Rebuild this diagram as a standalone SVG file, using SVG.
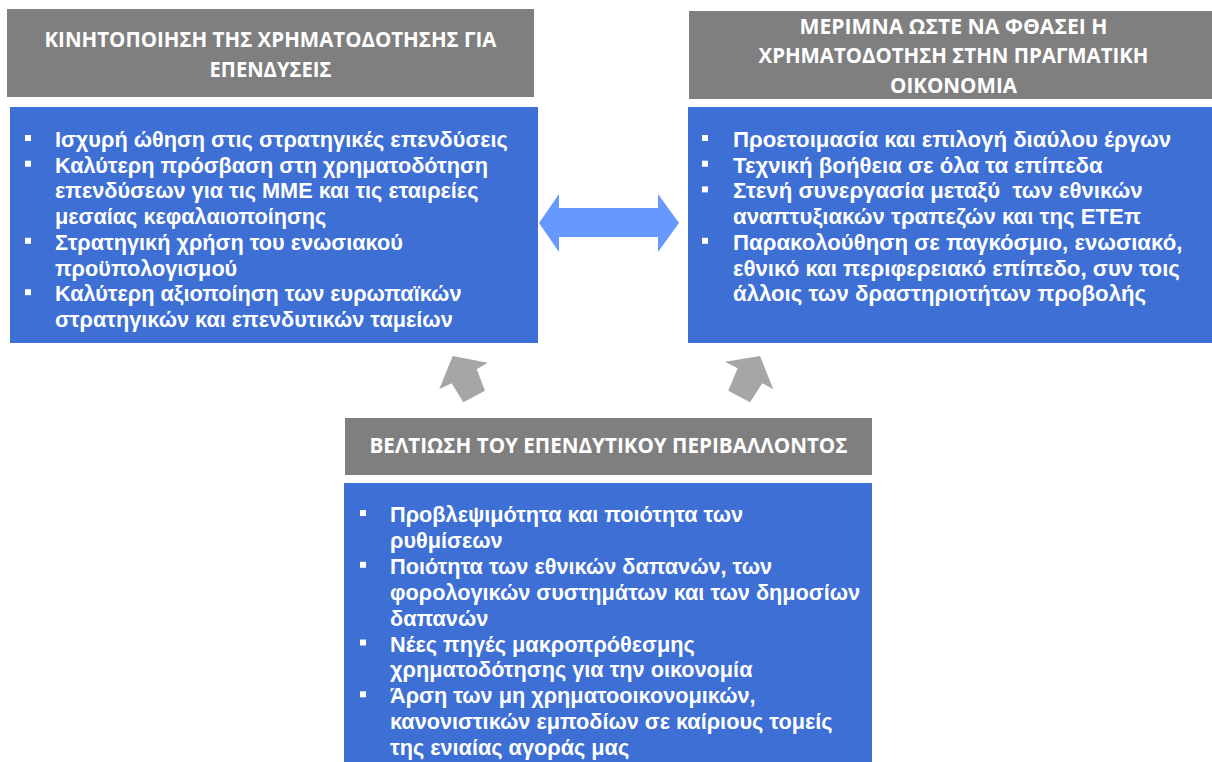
<svg xmlns="http://www.w3.org/2000/svg" width="1212" height="762" viewBox="0 0 1212 762">
<style>
.hdr{fill:#7F7F7F}
.box{fill:#3D6FD4}
.ht{font-family:"Open Sans","Noto Sans","DejaVu Sans",sans-serif;font-weight:bold;font-size:21px;fill:#FFFFFF;text-anchor:middle}
.bt{font-family:"Liberation Sans",Arial,sans-serif;font-weight:bold;font-size:21.7px;fill:#FFFFFF;white-space:pre}
.btr{font-size:22.2px}
.bul{fill:#FFFFFF}
.dbl{fill:#6699FF}
.up{fill:#A6A6A6}
</style>
<rect width="1212" height="762" fill="#FFFFFF"/>
<g id="connectors">
<polygon class="dbl" points="539,223 559,194 559,208 658,208 658,194 679,223 658,252 658,237 559,237 559,252"/>
<polygon class="up" points="452.7,356 487.7,362.7 476.7,369.3 485,390.7 463.3,402.3 451.7,383.3 439.3,389"/>
<polygon class="up" points="760,356 773.3,389.3 762.3,383.3 750,402.3 728.3,390.7 737.7,368.3 725,361.7"/>
</g>
<g id="node-mobilise">
<rect class="hdr" x="7" y="9" width="527" height="88"/>
<text class="ht" x="270.5" y="47" textLength="452" lengthAdjust="spacingAndGlyphs">ΚΙΝΗΤΟΠΟΙΗΣΗ ΤΗΣ ΧΡΗΜΑΤΟΔΟΤΗΣΗΣ ΓΙΑ</text>
<text class="ht" x="270.5" y="77" textLength="122" lengthAdjust="spacingAndGlyphs">ΕΠΕΝΔΥΣΕΙΣ</text>
<rect class="box" x="10" y="107" width="528" height="236"/>
<rect class="bul" x="25" y="135" width="6" height="6"/>
<rect class="bul" x="25" y="160.7" width="6" height="6"/>
<rect class="bul" x="25" y="237.8" width="6" height="6"/>
<rect class="bul" x="25" y="289.2" width="6" height="6"/>
<text class="bt" x="55" y="147">Ισχυρή ώθηση στις στρατηγικές επενδύσεις</text>
<text class="bt" x="55" y="172.7">Καλύτερη πρόσβαση στη χρηματοδότηση</text>
<text class="bt" x="55" y="198.4">επενδύσεων για τις ΜΜΕ και τις εταιρείες</text>
<text class="bt" x="55" y="224.1">μεσαίας κεφαλαιοποίησης</text>
<text class="bt" x="55" y="249.8">Στρατηγική χρήση του ενωσιακού</text>
<text class="bt" x="55" y="275.5">προϋπολογισμού</text>
<text class="bt" x="55" y="301.2">Καλύτερη αξιοποίηση των ευρωπαϊκών</text>
<text class="bt" x="55" y="326.9">στρατηγικών και επενδυτικών ταμείων</text>
</g>
<g id="node-realeconomy">
<rect class="hdr" x="689" y="11" width="530" height="88"/>
<text class="ht" x="953.5" y="34" textLength="308" lengthAdjust="spacingAndGlyphs">ΜΕΡΙΜΝΑ ΩΣΤΕ ΝΑ ΦΘΑΣΕΙ Η</text>
<text class="ht" x="953.5" y="63" textLength="390" lengthAdjust="spacingAndGlyphs">ΧΡΗΜΑΤΟΔΟΤΗΣΗ ΣΤΗΝ ΠΡΑΓΜΑΤΙΚΗ</text>
<text class="ht" x="953.5" y="92.5" textLength="127" lengthAdjust="spacingAndGlyphs">ΟΙΚΟΝΟΜΙΑ</text>
<rect class="box" x="688" y="107" width="531" height="236"/>
<rect class="bul" x="702" y="135" width="6" height="6"/>
<rect class="bul" x="702" y="160.7" width="6" height="6"/>
<rect class="bul" x="702" y="186.4" width="6" height="6"/>
<rect class="bul" x="702" y="237.8" width="6" height="6"/>
<text class="bt btr" x="733" y="147">Προετοιμασία και επιλογή διαύλου έργων</text>
<text class="bt btr" x="733" y="172.7">Τεχνική βοήθεια σε όλα τα επίπεδα</text>
<text class="bt btr" x="733" y="198.4">Στενή συνεργασία μεταξύ  των εθνικών</text>
<text class="bt btr" x="733" y="224.1">αναπτυξιακών τραπεζών και της ΕΤΕπ</text>
<text class="bt btr" x="733" y="249.8">Παρακολούθηση σε παγκόσμιο, ενωσιακό,</text>
<text class="bt btr" x="733" y="275.5">εθνικό και περιφερειακό επίπεδο, συν τοις</text>
<text class="bt btr" x="733" y="301.2">άλλοις των δραστηριοτήτων προβολής</text>
</g>
<g id="node-environment">
<rect class="hdr" x="345" y="418" width="527" height="57"/>
<text class="ht" x="608.5" y="453" textLength="478" lengthAdjust="spacingAndGlyphs">ΒΕΛΤΙΩΣΗ ΤΟΥ ΕΠΕΝΔΥΤΙΚΟΥ ΠΕΡΙΒΑΛΛΟΝΤΟΣ</text>
<rect class="box" x="344" y="483" width="528" height="290"/>
<rect class="bul" x="360" y="510" width="6" height="6"/>
<rect class="bul" x="360" y="561.8" width="6" height="6"/>
<rect class="bul" x="360" y="639.5" width="6" height="6"/>
<rect class="bul" x="360" y="691.3" width="6" height="6"/>
<text class="bt" x="390" y="522">Προβλεψιμότητα και ποιότητα των</text>
<text class="bt" x="390" y="547.9">ρυθμίσεων</text>
<text class="bt" x="390" y="573.8">Ποιότητα των εθνικών δαπανών, των</text>
<text class="bt" x="390" y="599.7">φορολογικών συστημάτων και των δημοσίων</text>
<text class="bt" x="390" y="625.6">δαπανών</text>
<text class="bt" x="390" y="651.5">Νέες πηγές μακροπρόθεσμης</text>
<text class="bt" x="390" y="677.4">χρηματοδότησης για την οικονομία</text>
<text class="bt" x="390" y="703.3">Άρση των μη χρηματοοικονομικών,</text>
<text class="bt" x="390" y="729.2">κανονιστικών εμποδίων σε καίριους τομείς</text>
<text class="bt" x="390" y="755.1">της ενιαίας αγοράς μας</text>
</g>
</svg>
